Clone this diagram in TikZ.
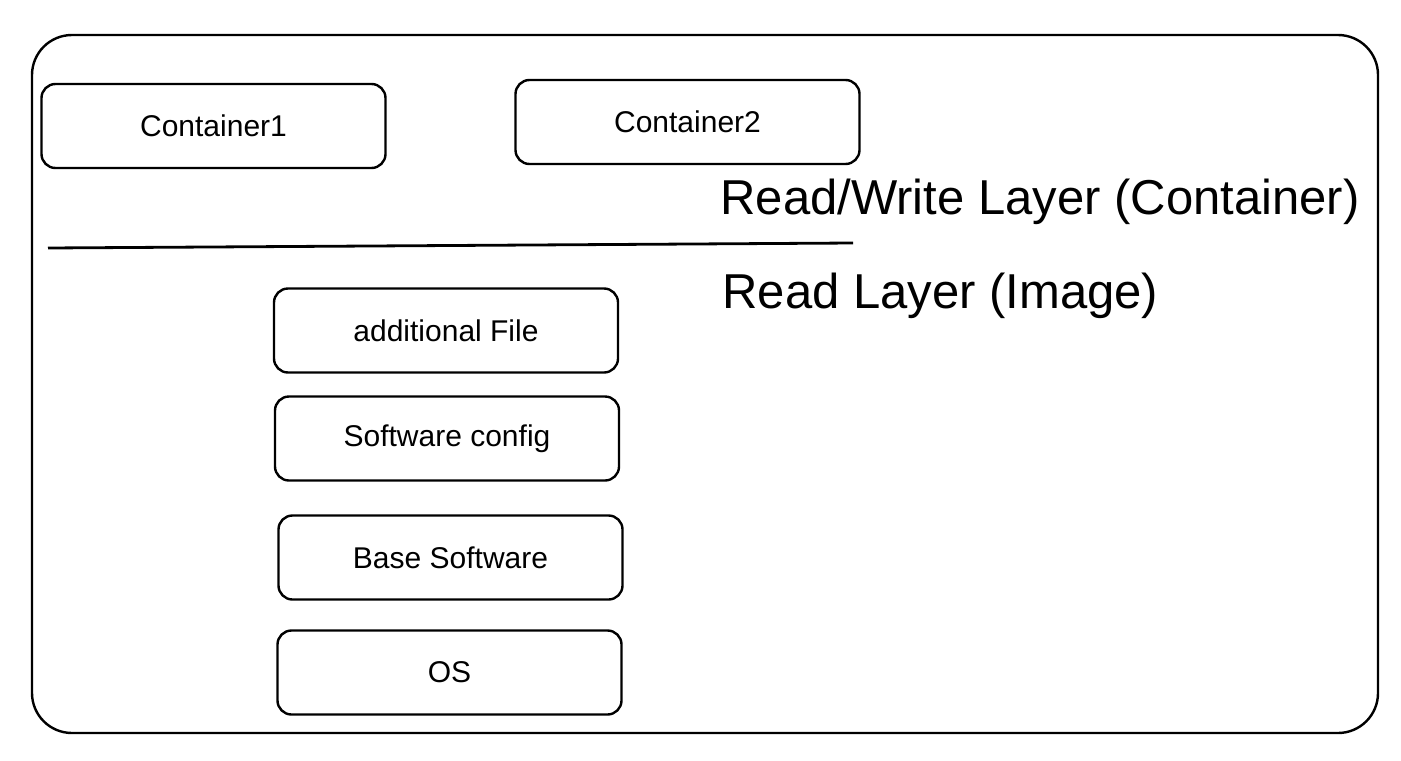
\documentclass[tikz,border=0pt]{standalone}
\usepackage{fontspec}
\setmainfont{Liberation Sans}
\tikzset{
  layerbox/.style={draw, line width=1.2pt, rounded corners=7pt, minimum width=172pt, minimum height=42pt, font=\fontsize{15}{18}\selectfont},
  layertext/.style={anchor=west, inner sep=0pt, font=\fontsize{24.5}{29}\selectfont}
}
\begin{document}
\begin{tikzpicture}[x=0.5pt,y=-0.5pt]
\useasboundingbox (0,0) rectangle (1401,760);
% outer frame
\draw[line width=1.2pt, rounded corners=20pt] (32,35) rectangle (1378,733);
% containers
\node[layerbox] (cont1) at (213.5,126) {Container1};
\node[layerbox] (cont2) at (687.5,122) {Container2};
% divider
\draw[line width=1.4pt] (48,248) -- (853,243);
\node[layertext] (rwlabel) at (720,202) {Read/Write Layer (Container)};
\node[layertext] (rlabel) at (722,296) {Read Layer (Image)};
% image layers
\node[layerbox] (addfile) at (446,330.5) {additional File};
\node[layerbox] (swconf) at (447,438.5) {Software config};
\node[layerbox] (basesw) at (450.5,557.5) {Base Software};
\node[layerbox] (os) at (449.5,672.5) {OS};
\end{tikzpicture}
\end{document}
